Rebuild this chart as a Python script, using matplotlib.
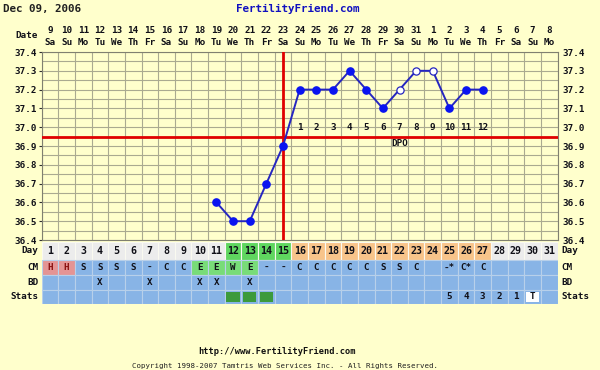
import matplotlib
matplotlib.use('Agg')
import matplotlib.pyplot as plt

# ---------------- data ----------------
cycle_days = list(range(1, 32))
dates = [9, 10, 11, 12, 13, 14, 15, 16, 17, 18, 19, 20, 21, 22, 23, 24, 25, 26,
         27, 28, 29, 30, 31, 1, 2, 3, 4, 5, 6, 7, 8]
weekdays = ['Sa', 'Su', 'Mo', 'Tu', 'We', 'Th', 'Fr'] * 4 + ['Sa', 'Su', 'Mo']
temp_days = list(range(11, 28))
temps = [36.6, 36.5, 36.5, 36.7, 36.9, 37.2, 37.2, 37.2, 37.3, 37.2, 37.1,
         37.2, 37.3, 37.3, 37.1, 37.2, 37.2]
open_days = [22, 23, 24]
coverline = 36.95
ovulation_day = 15
dpo_days = list(range(16, 28))
dpo_labels = [str(i) for i in range(1, 13)]
yticks = [36.4, 36.5, 36.6, 36.7, 36.8, 36.9, 37.0, 37.1, 37.2, 37.3, 37.4]
cm = ['H', 'H', 'S', 'S', 'S', 'S', '-', 'C', 'C', 'E', 'E', 'W', 'E', '-', '-',
      'C', 'C', 'C', 'C', 'C', 'S', 'S', 'C', '', '-*', 'C*', 'C', '', '', '', '']
bd_days = [4, 7, 10, 11, 13]
fertile_days = [12, 13, 14, 15]
luteal_days = list(range(16, 28))
stats_marked_days = [12, 13, 14]
countdown_days = [25, 26, 27, 28, 29]
countdown = ['5', '4', '3', '2', '1']
test_day = 30

# ---------------- style ----------------
BG = '#ffffcc'
GRID = '#aaaa90'
BLUE_ROW = '#88b4e6'
GREY_CELL = '#ececec'
GREEN = '#5fd65f'
GREEN_CM = '#78dc78'
ORANGE = '#f8c48a'
PINK = '#e49494'
DKGREEN = '#3c9a3c'
RED = '#e00000'
LINEBLUE = '#2626c0'
DOTBLUE = '#0a14f0'
TXT = '#101018'
FONT = 'DejaVu Sans Mono'
FS = 6.7

W, H = 600, 370
fig = plt.figure(figsize=(W / 100, H / 100), dpi=100, facecolor=BG)

def rect(x0, y0, x1, y1):
    return [x0 / W, (H - y1) / H, (x1 - x0) / W, (y1 - y0) / H]

PL, PR = 41.7, 557.6
ax = fig.add_axes(rect(PL, 52, PR, 240))
ax.set_facecolor(BG)
ax.set_xlim(0.5, 31.5)
ax.set_ylim(36.4, 37.4)

# grid
for d in range(0, 32):
    ax.axvline(d + 0.5, color=GRID, lw=0.8, zorder=1)
for i in range(21):
    ax.axhline(36.4 + 0.05 * i, color=GRID, lw=0.8, zorder=1)

for s in ax.spines.values():
    s.set_color('#808070')
    s.set_linewidth(0.8)

ax.set_xticks([])
ax.set_yticks(yticks)
ax.set_yticklabels(['%.1f' % v for v in yticks], fontfamily=FONT,
                   fontweight='bold', fontsize=FS, color=TXT)
ax.tick_params(axis='y', length=2, width=0.8, color='#303030', pad=1.5,
               labelright=True, right=False)

# coverline & ovulation
ax.axhline(coverline, color=RED, lw=2, zorder=3)
ax.axvline(ovulation_day, color=RED, lw=2, zorder=3)

# temperatures
ax.plot(temp_days, temps, color=LINEBLUE, lw=1.4, zorder=4)
for d, t in zip(temp_days, temps):
    if d in open_days:
        ax.plot(d, t, 'o', ms=5.2, mfc='white', mec=LINEBLUE, mew=0.9, zorder=5)
    else:
        ax.plot(d, t, 'o', ms=5.2, mfc=DOTBLUE, mec=DOTBLUE, zorder=5)

# DPO labels
for d, lab in zip(dpo_days, dpo_labels):
    ax.text(d, 37.0, lab, ha='center', va='center', fontfamily=FONT,
            fontweight='bold', fontsize=FS, color=TXT, zorder=6)
ax.text(22, 36.915, 'DPO', ha='center', va='center', fontfamily=FONT,
        fontweight='bold', fontsize=FS, color=TXT, zorder=6)

# dates header
tr = ax.get_xaxis_transform()
for d, dt, wd in zip(cycle_days, dates, weekdays):
    ax.text(d, 1.112, str(dt), transform=tr, ha='center', va='center',
            fontfamily=FONT, fontweight='bold', fontsize=FS, color=TXT,
            clip_on=False)
    ax.text(d, 1.049, wd, transform=tr, ha='center', va='center',
            fontfamily=FONT, fontweight='bold', fontsize=FS, color=TXT,
            clip_on=False)
ax.text(0.28, 1.086, 'Date', transform=tr, ha='right', va='center',
        fontfamily=FONT, fontweight='bold', fontsize=FS, color=TXT,
        clip_on=False)

# ---------------- table ----------------
at = fig.add_axes(rect(PL, 241, PR, 304))
at.set_xlim(0.5, 31.5)
at.set_ylim(304, 241)
at.axis('off')

rows = {'Day': (242, 259.5), 'CM': (260, 274.5), 'BD': (275, 289.5),
        'Stats': (290, 303.5)}

def cells(colors, row, ec):
    y0, y1 = rows[row]
    at.bar(cycle_days, y1 - y0, bottom=y0, width=1.0, color=colors,
           edgecolor=ec, linewidth=0.8, align='center')

day_colors = []
for d in cycle_days:
    if d in fertile_days:
        day_colors.append(GREEN)
    elif d in luteal_days:
        day_colors.append(ORANGE)
    else:
        day_colors.append(GREY_CELL)
cells(day_colors, 'Day', '#fafaf0')

cm_colors = []
for c in cm:
    if c == 'H':
        cm_colors.append(PINK)
    elif c in ('E', 'W'):
        cm_colors.append(GREEN_CM)
    else:
        cm_colors.append(BLUE_ROW)
cells(cm_colors, 'CM', '#b8d0ea')
cells([BLUE_ROW] * 31, 'BD', '#b8d0ea')
cells([BLUE_ROW] * 31, 'Stats', '#b8d0ea')

def rowmid(row):
    return sum(rows[row]) / 2

tk = dict(ha='center', va='center', fontfamily=FONT, fontweight='bold',
          fontsize=FS, color=TXT)
for d in cycle_days:
    at.text(d, rowmid('Day') + 0.5, str(d), **{**tk, 'fontsize': 7.2})
for d, c in zip(cycle_days, cm):
    if c:
        col = '#8a1010' if c == 'H' else TXT
        at.text(d, rowmid('CM'), c, **{**tk, 'color': col})
for d in bd_days:
    at.text(d, rowmid('BD'), 'X', **tk)

sy0, sy1 = rows['Stats']
at.bar(stats_marked_days, (sy1 - sy0) - 4, bottom=sy0 + 2, width=0.8,
       color=DKGREEN, linewidth=0)
at.bar([test_day], (sy1 - sy0) - 3, bottom=sy0 + 1.5, width=0.75,
       color='white', linewidth=0)
at.text(test_day, rowmid('Stats'), 'T', **tk)
for d, lab in zip(countdown_days, countdown):
    at.text(d, rowmid('Stats'), lab, **tk)

lk = dict(va='center', fontfamily=FONT, fontweight='bold', fontsize=FS,
          color=TXT, clip_on=False)
for name in ['Day', 'CM', 'BD', 'Stats']:
    at.text(0.32, rowmid(name), name, ha='right', **lk)
    at.text(31.74, rowmid(name), name, ha='left', **lk)

# ---------------- titles ----------------
fig.text(3 / W, 1 - 9 / H, 'Dec 09, 2006', ha='left', va='center',
         fontfamily=FONT, fontweight='bold', fontsize=7.8, color='#202020')
fig.text(298 / W, 1 - 9 / H, 'FertilityFriend.com', ha='center', va='center',
         fontfamily=FONT, fontweight='bold', fontsize=7.8, color='#1010c0')
fig.text(277 / W, 1 - 352 / H, 'http://www.FertilityFriend.com', ha='center',
         va='center', fontfamily=FONT, fontweight='bold', fontsize=6.2,
         color='#101010')
fig.text(285 / W, 1 - 366 / H,
         'Copyright 1998-2007 Tamtris Web Services Inc. - All Rights Reserved.',
         ha='center', va='center', fontfamily=FONT, fontsize=5.3,
         color='#202020')

fig.savefig('out.png', dpi=100, facecolor=BG)
